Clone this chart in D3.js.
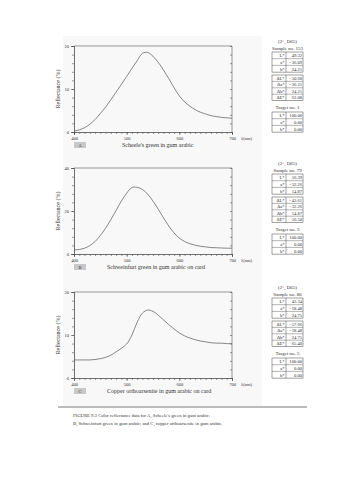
<!DOCTYPE html>
<html><head><meta charset="utf-8">
<script src="https://cdn.jsdelivr.net/npm/d3@7"></script>
<style>body{margin:0;background:#fff}svg{display:block}text{font-family:"Liberation Serif","DejaVu Serif",serif;fill:#333}</style>
</head><body><svg id="c" width="360" height="480"></svg>
<script>
const wavelengths = d3.range(400, 701, 10);
const seriesA = [0.2,0.5,1.0,1.8,2.9,4.3,5.8,7.5,9.3,11.1,12.9,14.8,16.6,18.3,18.5,17.6,16.2,14.4,12.4,10.3,8.4,7.0,6.0,5.2,4.6,4.2,3.8,3.6,3.4,3.3,3.2];
const seriesB = [1.9,2.1,2.7,3.9,5.8,8.6,12.0,16.0,20.3,24.6,28.3,30.9,31.0,30.0,27.8,24.6,20.8,16.8,13.0,9.8,7.4,5.8,4.8,4.1,3.6,3.3,3.0,2.9,2.8,2.7,2.7];
const seriesC = [4.2,4.2,4.2,4.2,4.3,4.5,4.8,5.3,6.1,6.9,7.9,10.0,13.0,15.1,15.8,15.5,14.6,13.5,12.4,11.4,10.5,9.8,9.3,8.9,8.6,8.4,8.2,8.1,8.1,8.0,8.0];
const yMaxes = [20, 40, 20];
const yTickLabelsA = [0, 10, 20];
const yTickLabelsB = [0, 20, 40];
const yTickLabelsC = [0, 10, 20];
const xTickLabels = [400, 500, 600, 700];
const panelLetters = ["A", "B", "C"];
const panelCaptions = ["Scheele's green in gum arabic", "Schweinfurt green in gum arabic on card", "Copper orthoarsenite in gum arabic on card"];
const sampleNos = ["Sample no. 153", "Sample no. 79", "Sample no. 86"];
const targetNos = ["Target no. 1", "Target no. 3", "Target no. 5"];
const labLabels = ["L*", "a*", "b*"];
const deltaLabels = ["\u0394L*", "\u0394a*", "\u0394b*", "\u0394E*"];
const labValues = [["49.32", "\u221236.09", "24.21"], ["56.39", "\u221232.26", "14.87"], ["42.34", "\u221218.48", "24.75"]];
const deltaValues = [["\u221250.68", "\u221236.21", "24.21", "62.08"], ["\u221243.61", "\u221232.26", "14.87", "56.50"], ["\u221257.66", "\u221218.48", "24.75", "65.40"]];
const targetValues = ["100.00", "0.00", "0.00"];

const svg = d3.select("#c");
const series = [seriesA, seriesB, seriesC];
const yTicks = [yTickLabelsA, yTickLabelsB, yTickLabelsC];
const tops = [46, 168, 292];
const L = 74, R = 232, H = 86;
const x = d3.scaleLinear().domain([400, 700]).range([L, R]);

tops.forEach((top, i) => {
  const g = svg.append("g");
  g.append("rect").attr("x", 63).attr("y", top - 10).attr("width", 199).attr("height", 124).attr("fill", "#f8f8f8");
  const y = d3.scaleLinear().domain([0, yMaxes[i]]).range([top + H, top]);
  const minorY = d3.range(0, yMaxes[i] + 0.01, yMaxes[i] / 10);
  const minorX = d3.range(400, 701, 10);
  const ax = g.append("g").attr("stroke-width", 0.6);
  ax.append("g").attr("transform", `translate(${L},0)`).call(d3.axisLeft(y).tickValues(minorY).tickSize(2).tickFormat(""));
  ax.append("g").attr("transform", `translate(${L},0)`).call(d3.axisLeft(y).tickValues(yTicks[i]).tickSize(3).tickPadding(2).tickFormat(d3.format("d")))
    .call(s => s.selectAll("text").attr("font-size", 4.5).attr("fill", "#333"));
  ax.append("g").attr("transform", `translate(${R},0)`).call(d3.axisLeft(y).tickValues(minorY).tickSize(2).tickFormat(""))
    .call(s => s.select(".domain").remove());
  ax.append("g").attr("transform", `translate(0,${top + H})`).call(d3.axisBottom(x).tickValues(minorX).tickSize(2).tickFormat(""));
  ax.append("g").attr("transform", `translate(0,${top + H})`).call(d3.axisBottom(x).tickValues(xTickLabels).tickSize(3).tickPadding(2).tickFormat(d3.format("d")))
    .call(s => s.selectAll("text").attr("font-size", 4.5).attr("fill", "#333"));
  ax.selectAll(".domain, line").attr("stroke", "#555");
  g.append("line").attr("x1", L).attr("x2", R).attr("y1", top).attr("y2", top).attr("stroke", "#555").attr("stroke-width", 0.6);
  g.append("line").attr("x1", R).attr("x2", R).attr("y1", top).attr("y2", top + H).attr("stroke", "#555").attr("stroke-width", 0.6);
  g.append("text").attr("x", R + 9).attr("y", top + H + 7.5).attr("font-size", 4.5).text("\u03bb(nm)");
  g.append("text").attr("transform", `translate(60,${top + H / 2}) rotate(-90)`).attr("text-anchor", "middle").attr("font-size", 6).text("Reflectance (%)");
  g.append("path").datum(series[i].map((v, k) => [wavelengths[k], v]))
    .attr("d", d3.line().x(d => x(d[0])).y(d => y(d[1])).curve(d3.curveCatmullRom))
    .attr("fill", "none").attr("stroke", "#555").attr("stroke-width", 0.7);
  g.append("rect").attr("x", L).attr("y", top + H + 10).attr("width", 12).attr("height", 6).attr("fill", "#c8c8c8");
  g.append("text").attr("x", L + 6).attr("y", top + H + 15).attr("text-anchor", "middle").attr("font-size", 4.5).text(panelLetters[i]);
  g.append("text").attr("x", i === 0 ? 122 : 107).attr("y", top + H + 15).attr("font-size", 6).text(panelCaptions[i]);

  const tx = 272, tw = 31, tdiv = 286, cx = 287.5;
  const t = svg.append("g");
  t.append("text").attr("x", cx).attr("y", top - 3).attr("text-anchor", "middle").attr("font-size", 5).text("(2\u00b0, D65)");
  t.append("text").attr("x", cx).attr("y", top + 3.5).attr("text-anchor", "middle").attr("font-size", 5).text(sampleNos[i]);
  function table(y0, rh, labels, vals) {
    const tg = t.append("g");
    tg.append("rect").attr("x", tx).attr("y", y0).attr("width", tw).attr("height", rh * labels.length).attr("fill", "#fff").attr("stroke", "#444").attr("stroke-width", 0.5);
    tg.append("line").attr("x1", tdiv).attr("x2", tdiv).attr("y1", y0).attr("y2", y0 + rh * labels.length).attr("stroke", "#444").attr("stroke-width", 0.5);
    labels.forEach((lb, k) => {
      if (k > 0) tg.append("line").attr("x1", tx).attr("x2", tx + tw).attr("y1", y0 + rh * k).attr("y2", y0 + rh * k).attr("stroke", "#444").attr("stroke-width", 0.4);
      tg.append("text").attr("x", tdiv - 1.5).attr("y", y0 + rh * k + rh - 1.6).attr("text-anchor", "end").attr("font-size", 4.6).text(lb);
      tg.append("text").attr("x", tx + tw - 1).attr("y", y0 + rh * k + rh - 1.6).attr("text-anchor", "end").attr("font-size", 4.6).text(vals[k]);
    });
  }
  table(top + 6, 6.7, labLabels, labValues[i]);
  table(top + 29, 6.4, deltaLabels, deltaValues[i]);
  t.append("text").attr("x", cx).attr("y", top + 63).attr("text-anchor", "middle").attr("font-size", 5).text(targetNos[i]);
  table(top + 66, 6.7, labLabels, targetValues);
});

svg.append("line").attr("x1", 58).attr("x2", 307).attr("y1", 407).attr("y2", 407).attr("stroke", "#555").attr("stroke-width", 0.8);
svg.append("text").attr("x", 73).attr("y", 417).attr("font-size", 4.7).text("FIGURE 9.3   Color reflectance data for A, Scheele's green in gum arabic;");
svg.append("text").attr("x", 73).attr("y", 424.5).attr("font-size", 4.7).text("B, Schweinfurt green in gum arabic; and C, copper orthoarsenite in gum arabic.");
</script></body></html>
